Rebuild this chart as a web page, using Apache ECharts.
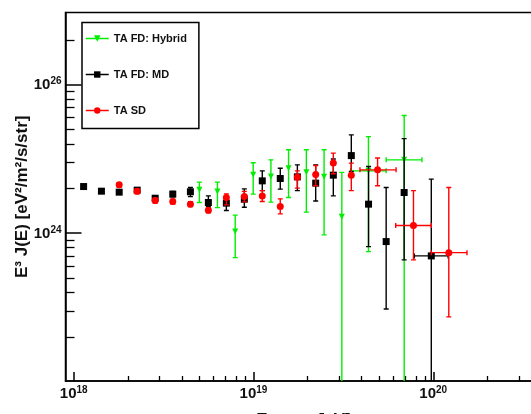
<!DOCTYPE html>
<html>
<head>
<meta charset="utf-8">
<title>TA spectrum</title>
<script src="https://cdn.jsdelivr.net/npm/echarts@6/dist/echarts.min.js"></script>
<style>
  html, body { margin: 0; padding: 0; background: #fff; }
  #chart { width: 531px; height: 414px; }
</style>
</head>
<body>
<div id="chart"></div>
<script>
// axis ranges, in the units printed on the picture
const xMin = 9e17
const xMax = 4e20
const yMin = 1.02e22
const yMax = 9.4e26

// tick marks as drawn on the picture
const xMajor = [1e18, 1e19, 1e20]
const xMinor = [2e18, 3e18, 4e18, 5e18, 6e18, 7e18, 8e18, 9e18,
  2e19, 3e19, 4e19, 5e19, 6e19, 7e19, 8e19, 9e19, 2e20, 3e20]
const yMajor = [1e24, 1e26]
const yMinor = [4e22, 9e22, 1.6e23, 2.5e23, 3.6e23, 4.9e23, 6.4e23, 8.1e23,
  4e24, 9e24, 1.6e25, 2.5e25, 3.6e25, 4.9e25, 6.4e25, 8.1e25, 4e26]

// TA FD: Hybrid (green)
const hyE = [5.0e18, 6.3e18, 7.91e18, 9.96e18, 1.25e19, 1.567e19, 1.968e19, 2.47e19, 3.1e19, 4.36e19, 6.89e19]
const hyJ = [3.84e24, 3.64e24, 1.05e24, 6.11e24, 5.8e24, 7.52e24, 6.63e24, 5.74e24, 1.66e24, 6.92e24, 9.73e24]
const hyHi = [4.88e24, 4.88e24, 1.75e24, 8.87e24, 9.73e24, 1.33e25, 1.33e25, 1.33e25, 6.6e24, 2.0e25, 3.85e25]
const hyLo = [2.59e24, 2.21e24, 4.69e23, 3.36e24, 2.62e24, 3.02e24, 1.92e24, 9.49e23, 1e21, 5.65e23, 1e21]
const hyXLo = [null, null, null, null, null, null, null, null, null, 3.47e19, 5.47e19]
const hyXHi = [null, null, null, null, null, null, null, null, null, 5.47e19, 8.65e19]

// TA FD: MD (black)
const mdE = [1.135e18, 1.426e18, 1.79e18, 2.254e18, 2.838e18, 3.556e18, 4.457e18, 5.61e18, 7.063e18, 8.892e18,
  1.119e19, 1.409e19, 1.754e19, 2.218e19, 2.78e19, 3.5e19, 4.365e19, 5.47e19, 6.887e19, 9.75e19]
const mdJ = [4.25e24, 3.68e24, 3.57e24, 3.8e24, 2.96e24, 3.36e24, 3.61e24, 2.59e24, 2.54e24, 2.87e24,
  5.07e24, 5.45e24, 5.74e24, 4.72e24, 6.05e24, 1.11e25, 2.46e24, 7.71e23, 3.53e24, 4.94e23]
const mdHi = [4.4e24, 3.8e24, 3.7e24, 3.95e24, 3.12e24, 3.64e24, 4.12e24, 3.18e24, 3.11e24, 3.95e24,
  6.92e24, 7.51e24, 8.33e24, 8.33e24, 1.0e25, 2.11e25, 7.91e24, 4.12e24, 1.88e25, 5.35e24]
const mdLo = [4.1e24, 3.55e24, 3.45e24, 3.65e24, 2.81e24, 3.08e24, 3.11e24, 2.28e24, 2.02e24, 2.24e24,
  3.75e24, 3.92e24, 3.75e24, 2.72e24, 3.18e24, 6.78e24, 6.59e23, 9.53e22, 4.37e23, 1e21]
const mdXLo = [null, null, null, null, null, null, null, null, null, null,
  null, null, null, null, null, null, null, null, null, 7.85e19]
const mdXHi = [null, null, null, null, null, null, null, null, null, null,
  null, null, null, null, null, null, null, null, null, 1.21e20]

// TA SD (red)
const sdE = [1.79e18, 2.254e18, 2.838e18, 3.556e18, 4.457e18, 5.61e18, 7.063e18, 8.892e18,
  1.119e19, 1.409e19, 1.754e19, 2.218e19, 2.78e19, 3.5e19, 4.9e19, 7.76e19, 1.22e20]
const sdJ = [4.48e24, 3.68e24, 2.75e24, 2.67e24, 2.46e24, 2.04e24, 3.02e24, 3.11e24,
  3.18e24, 2.28e24, 5.69e24, 6.17e24, 8.79e24, 6.05e24, 7.13e24, 1.27e24, 5.47e23]
const sdHi = [4.8e24, 3.95e24, 2.95e24, 2.87e24, 2.65e24, 2.2e24, 3.39e24, 3.66e24,
  3.75e24, 2.9e24, 6.92e24, 8.15e24, 1.2e25, 8.79e24, 1.03e25, 3.75e24, 4.12e24]
const sdLo = [4.15e24, 3.4e24, 2.55e24, 2.47e24, 2.28e24, 1.88e24, 2.41e24, 2.64e24,
  2.67e24, 1.82e24, 4.05e24, 4.35e24, 6.31e24, 3.75e24, 4.35e24, 4.37e23, 7.45e22]
const sdXLo = [null, null, null, null, null, null, null, null,
  null, null, null, null, null, null, 3.91e19, 6.18e19, 9.75e19]
const sdXHi = [null, null, null, null, null, null, null, null,
  null, null, null, null, null, null, 6.21e19, 9.75e19, 1.54e20]

const lg = Math.log10
const font = 'Liberation Sans, Arial, sans-serif'

// markers, plotted in log10 space on linear axes
function points(E, J) {
  return E.map((e, i) => [lg(e), lg(J[i])])
}

// error bar rows: x, y, ylo, yhi, xlo, xhi (no x error -> xlo = xhi = x)
function errRows(E, J, lo, hi, xlo, xhi) {
  return E.map((e, i) => [
    lg(e), lg(J[i]), lg(lo[i]), lg(hi[i]),
    xlo[i] ? lg(xlo[i]) : lg(e),
    xhi[i] ? lg(xhi[i]) : lg(e)
  ])
}

function errorBars(color, width) {
  return function (params, api) {
    const x = api.value(0)
    const y = api.value(1)
    const lo = api.coord([x, api.value(2)])
    const hi = api.coord([x, api.value(3)])
    const xl = api.coord([api.value(4), y])
    const xr = api.coord([api.value(5), y])
    const style = { stroke: color, lineWidth: width, fill: null }
    const cap = 2.5
    const children = []
    if (lo[1] - hi[1] > 0.5) {
      children.push(
        { type: 'line', shape: { x1: lo[0], y1: lo[1], x2: hi[0], y2: hi[1] }, style },
        { type: 'line', shape: { x1: lo[0] - cap, y1: lo[1], x2: lo[0] + cap, y2: lo[1] }, style },
        { type: 'line', shape: { x1: hi[0] - cap, y1: hi[1], x2: hi[0] + cap, y2: hi[1] }, style }
      )
    }
    if (xr[0] - xl[0] > 0.5) {
      children.push(
        { type: 'line', shape: { x1: xl[0], y1: xl[1], x2: xr[0], y2: xr[1] }, style },
        { type: 'line', shape: { x1: xl[0], y1: xl[1] - cap, x2: xl[0], y2: xl[1] + cap }, style },
        { type: 'line', shape: { x1: xr[0], y1: xr[1] - cap, x2: xr[0], y2: xr[1] + cap }, style }
      )
    }
    return { type: 'group', children }
  }
}

function powLabel(v) {
  return '{b|10}{s|' + Math.round(v) + '}'
}

const labelRich = {
  b: { fontFamily: font, fontSize: 15, fontWeight: 'bold', color: '#111', verticalAlign: 'bottom' },
  s: { fontFamily: font, fontSize: 10, fontWeight: 'bold', color: '#111', verticalAlign: 'bottom', padding: [0, 0, 6, 0] }
}

const myChart = echarts.init(document.getElementById('chart'))
myChart.setOption({
  animation: false,
  grid: {
    left: 65.5,
    top: 12.5,
    width: 476,
    height: 368.5,
    show: true,
    borderColor: '#000',
    borderWidth: 1.5,
    outerBoundsMode: 'none'
  },
  legend: {
    orient: 'vertical',
    left: 82,
    top: 22.5,
    data: ['TA FD: Hybrid', 'TA FD: MD', 'TA SD'],
    itemWidth: 23,
    itemHeight: 8,
    itemGap: 24,
    itemTextGap: 3,
    padding: [10, 12, 12, 3],
    borderColor: '#000',
    borderWidth: 1.5,
    backgroundColor: '#fff',
    selectedMode: false,
    lineStyle: { width: 1.5, opacity: 1 },
    textStyle: { fontFamily: font, fontWeight: 'bold', fontSize: 11, lineHeight: 12, color: '#111' }
  },
  xAxis: [
    {
      type: 'value',
      position: 'bottom',
      min: lg(xMin),
      max: lg(xMax),
      name: 'Energy [eV]',
      nameLocation: 'middle',
      nameGap: 31,
      nameMoveOverlap: false,
      nameTextStyle: { fontFamily: font, fontSize: 17, fontWeight: 'bold', color: '#111' },
      axisLine: { lineStyle: { color: '#000', width: 1.5 } },
      axisTick: { inside: true, length: 9, customValues: xMajor.map(lg), lineStyle: { color: '#000', width: 1.5 } },
      axisLabel: { customValues: xMajor.map(lg), formatter: powLabel, rich: labelRich, margin: 4 },
      splitLine: { show: false }
    },
    {
      type: 'value',
      position: 'bottom',
      min: lg(xMin),
      max: lg(xMax),
      axisLine: { show: false },
      axisTick: { inside: true, length: 5, customValues: xMinor.map(lg), lineStyle: { color: '#000', width: 1.3 } },
      axisLabel: { show: false },
      splitLine: { show: false }
    }
  ],
  yAxis: [
    {
      type: 'value',
      position: 'left',
      min: lg(yMin),
      max: lg(yMax),
      name: 'E³ J(E) [eV²/m²/s/str]',
      nameLocation: 'middle',
      nameGap: 35,
      nameMoveOverlap: false,
      nameTextStyle: { fontFamily: font, fontSize: 17, fontWeight: 'bold', color: '#111' },
      axisLine: { lineStyle: { color: '#000', width: 1.5 } },
      axisTick: { inside: true, length: 16, customValues: yMajor.map(lg), lineStyle: { color: '#000', width: 1.5 } },
      axisLabel: { customValues: yMajor.map(lg), formatter: powLabel, rich: labelRich, margin: 4 },
      splitLine: { show: false }
    },
    {
      type: 'value',
      position: 'left',
      min: lg(yMin),
      max: lg(yMax),
      axisLine: { show: false },
      axisTick: { inside: true, length: 9, customValues: yMinor.map(lg), lineStyle: { color: '#000', width: 1.3 } },
      axisLabel: { show: false },
      splitLine: { show: false }
    }
  ],
  series: [
    {
      name: 'hybridErr',
      type: 'custom',
      clip: true,
      z: 2,
      renderItem: errorBars('#00ee00', 1.4),
      data: errRows(hyE, hyJ, hyLo, hyHi, hyXLo, hyXHi)
    },
    {
      name: 'TA FD: Hybrid',
      type: 'line',
      z: 3,
      symbol: 'triangle',
      symbolRotate: 180,
      symbolSize: 6,
      itemStyle: { color: '#00ee00' },
      lineStyle: { color: '#00ee00', opacity: 0 },
      data: points(hyE, hyJ)
    },
    {
      name: 'mdErr',
      type: 'custom',
      clip: true,
      z: 4,
      renderItem: errorBars('#000', 1.4),
      data: errRows(mdE, mdJ, mdLo, mdHi, mdXLo, mdXHi)
    },
    {
      name: 'TA FD: MD',
      type: 'line',
      z: 5,
      symbol: 'rect',
      symbolSize: 7,
      itemStyle: { color: '#000' },
      lineStyle: { color: '#000', opacity: 0 },
      data: points(mdE, mdJ)
    },
    {
      name: 'sdErr',
      type: 'custom',
      clip: true,
      z: 6,
      renderItem: errorBars('#ff0000', 1.4),
      data: errRows(sdE, sdJ, sdLo, sdHi, sdXLo, sdXHi)
    },
    {
      name: 'TA SD',
      type: 'line',
      z: 7,
      symbol: 'circle',
      symbolSize: 7,
      itemStyle: { color: '#ff0000' },
      lineStyle: { color: '#ff0000', opacity: 0 },
      data: points(sdE, sdJ)
    }
  ]
})
</script>
</body>
</html>
